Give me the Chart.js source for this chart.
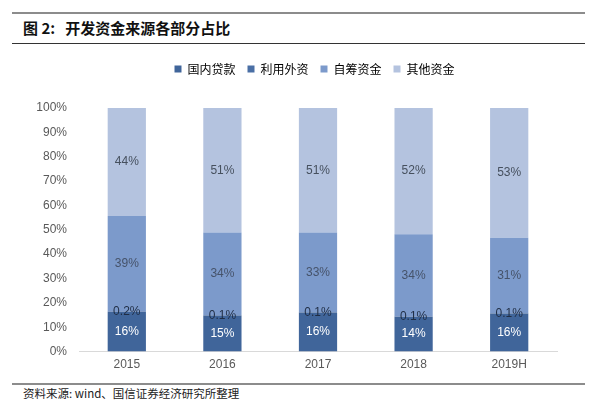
<!DOCTYPE html>
<html><head><meta charset="utf-8">
<script src="https://cdn.jsdelivr.net/npm/chart.js@4"></script>
<style>
html,body{margin:0;padding:0;background:#fff;width:591px;height:407px;overflow:hidden;font-family:"Liberation Sans",Arial,sans-serif;}
#topline{position:absolute;left:12px;top:12px;width:573px;height:2px;background:#8c8c8c;}
#title{position:absolute;left:23px;top:18px;font-family:"Noto Sans CJK SC",sans-serif;font-weight:bold;font-size:15px;color:#111;line-height:20px;}
#titleline{position:absolute;left:12px;top:43px;width:573px;height:1px;background:#333;}
#wrap{position:absolute;left:0;top:50px;width:591px;height:330px;}
#botline{position:absolute;left:12px;top:383px;width:573px;height:2px;background:#8c8c8c;}
#source{position:absolute;left:23px;top:385px;font-family:"Noto Sans CJK SC",sans-serif;font-size:11.5px;color:#222;line-height:17px;}
</style></head>
<body>
<div id="topline"></div>
<div id="title">图 2:&nbsp;&nbsp;&nbsp;开发资金来源各部分占比</div>
<div id="titleline"></div>
<div id="wrap"><canvas id="c" width="591" height="330"></canvas></div>
<div id="botline"></div>
<div id="source">资料来源: wind、国信证券经济研究所整理</div>
<script>
const categories = ["2015","2016","2017","2018","2019H"];
const domesticLoans = [16.3, 14.8, 16.1, 14.3, 15.6];
const foreignCapital = [0.2, 0.1, 0.1, 0.1, 0.1];
const selfRaised = [39.2, 34.0, 32.7, 33.8, 31.0];
const otherFunds = [44.3, 51.1, 51.1, 51.8, 53.3];
const seriesNames = ["国内贷款","利用外资","自筹资金","其他资金"];
const yTicks = [0,10,20,30,40,50,60,70,80,90,100];

const colors = ["#40659a","#4a6fa5","#7c9acb","#b4c3df"];
const labelColors = ["#ffffff","#1f2d44","#46536a","#46505e"];
const allSeries = [domesticLoans, foreignCapital, selfRaised, otherFunds];

const labelPlugin = {
  id:'segLabels',
  afterDatasetsDraw(chart){
    const ctx = chart.ctx;
    ctx.save();
    ctx.font = '12px "Liberation Sans", Arial, sans-serif';
    ctx.textAlign = 'center';
    ctx.textBaseline = 'middle';
    chart.data.datasets.forEach((ds, di) => {
      const meta = chart.getDatasetMeta(di);
      meta.data.forEach((bar, i) => {
        const v = ds.data[i];
        const txt = v < 1 ? v.toFixed(1) + '%' : Math.round(v) + '%';
        const y = (bar.y + bar.base) / 2;
        ctx.fillStyle = labelColors[di];
        ctx.fillText(txt, bar.x, y);
      });
    });
    ctx.restore();
  }
};

const legendAdjust = {
  id:'legendAdjust',
  beforeLayout(chart){
    const lg = chart.legend;
    if (lg && !lg._patched){
      const origFit = lg.fit;
      lg.fit = function(){ origFit.call(this); this.height += 23; };
      lg._patched = true;
    }
  },
  afterLayout(chart){
    const lg = chart.legend;
    if (lg){ lg.left += 36; lg.right += 36; }
  }
};

new Chart(document.getElementById('c'), {
  type:'bar',
  data:{
    labels:categories,
    datasets: allSeries.map((d, i) => ({
      label: seriesNames[i],
      data: d,
      backgroundColor: colors[i],
      borderWidth: 0,
      categoryPercentage: 0.4,
      barPercentage: 1
    }))
  },
  options:{
    responsive:false,
    animation:false,
    devicePixelRatio:1,
    layout:{padding:{left:0,right:34,top:1,bottom:2}},
    plugins:{
      legend:{
        display:true,
        position:'top',
        labels:{
          boxWidth:7, boxHeight:7,
          font:{family:'"Noto Sans CJK SC", sans-serif', size:12},
          color:'#555',
          padding:12,
          generateLabels(chart){
            return chart.data.datasets.map((ds,i)=>({
              text: ds.label, fillStyle: colors[i], strokeStyle: colors[i], lineWidth:0, datasetIndex:i, hidden:false
            }));
          }
        }
      },
      tooltip:{enabled:false}
    },
    scales:{
      x:{
        stacked:true,
        grid:{display:false, drawTicks:false},
        border:{display:true,color:'#d9d9d9',width:1},
        ticks:{color:'#595959',font:{family:'"Liberation Sans", Arial, sans-serif',size:12},padding:6}
      },
      y:{
        stacked:true,
        min:0,max:100,
        afterBuildTicks(axis){ axis.ticks = yTicks.map(v=>({value:v})); },
        afterFit(axis){ axis.width = 79; },
        grid:{display:false, drawTicks:false},
        border:{display:false},
        ticks:{color:'#595959',font:{family:'"Liberation Sans", Arial, sans-serif',size:12},padding:12,
          callback:(v)=>v+'%'}
      }
    }
  },
  plugins:[labelPlugin, legendAdjust]
});
</script>
</body></html>
